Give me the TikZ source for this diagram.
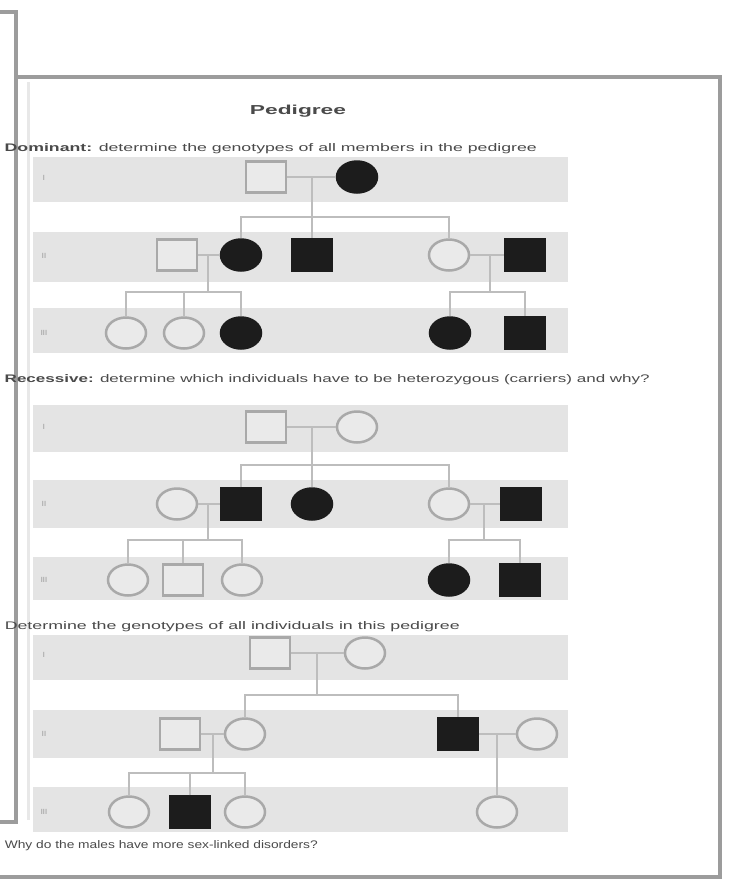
\documentclass[tikz,border=0pt]{standalone}
\usepackage{graphicx}
\usepackage{fontspec}
\setmainfont{Liberation Sans}
\usetikzlibrary{positioning,shapes.geometric}
\definecolor{bandgray}{HTML}{E4E4E4}
\definecolor{openfill}{HTML}{EAEAEA}
\definecolor{symline}{HTML}{A9A9A9}
\definecolor{linkgray}{HTML}{BDBDBD}
\definecolor{ink}{HTML}{1C1C1C}
\definecolor{framegray}{HTML}{9C9C9C}
\definecolor{txt}{HTML}{4A4A4A}
% stretch a line of text to a given width, keeping its height
\newcommand{\wide}[2]{\resizebox{#1}{\height}{#2}}

\begin{document}
\begin{tikzpicture}[x=1pt, y=-1pt,
  male/.style={draw=symline, fill=openfill, line width=2.5pt, minimum width=40pt, minimum height=31pt, inner sep=0pt},
  female/.style={male, ellipse},
  hit/.style={draw=ink, fill=ink},
  link/.style={draw=linkgray, line width=2pt},
  genlab/.style={font=\fontsize{7.5}{8}\selectfont, text=gray!85},
  task/.style={anchor=base east, inner sep=0pt, font=\fontsize{11}{13}\selectfont, text=txt},
  frame/.style={draw=framegray, line width=4pt}]
  \useasboundingbox (0,0) rectangle (732,879);
  \fill[white] (0,0) rectangle (732,879);

  % frames
  \draw[gray!18, line width=3pt] (28,82) -- (28,820);
  \draw[frame] (0,12) -- (16,12) -- (16,822) -- (0,822);
  \draw[frame] (16,77) -- (720,77) -- (720,877) -- (0,877);

  % grey bands, one per generation
  \foreach \top/\bot in {157/202, 232/282, 308/353, 405/452, 480/528, 557/600, 635/680, 710/758, 787/832}
    \fill[bandgray] (33,\top) rectangle (568,\bot);
  \foreach \y/\g in {178/I, 256/II, 333/III, 427/I, 504/II, 580/III, 655/I, 734/II, 812/III}
    \node[genlab] at (44,\y) {\g};

  \node[font=\bfseries\fontsize{13}{15}\selectfont, text=txt] (title) at (298,111) {\wide{96pt}{Pedigree}};
  \node[task] (t1) at (537,151) {\wide{532pt}{\textbf{Dominant:} determine the genotypes of all members in the pedigree}};
  \node[task] (t2) at (650,382) {\wide{645pt}{\textbf{Recessive:} determine which individuals have to be heterozygous (carriers) and why?}};
  \node[task] (t3) at (460,629) {\wide{455pt}{Determine the genotypes of all individuals in this pedigree}};
  \node[task] (t4) at (318,848) {\wide{313pt}{Why do the males have more sex-linked disorders?}};

  % dominant
  \node[male] (a11) at (266,177) {};
  \node[female, hit] (a12) at (357,177) {};
  \node[male] (a21) at (177,255) {};
  \node[female, hit] (a22) at (241,255) {};
  \node[male, hit] (a23) at (312,255) {};
  \node[female] (a24) at (449,255) {};
  \node[male, hit] (a25) at (525,255) {};
  \node[female] (a31) at (126,333) {};
  \node[female] (a32) at (184,333) {};
  \node[female, hit] (a33) at (241,333) {};
  \node[female, hit] (a34) at (450,333) {};
  \node[male, hit] (a35) at (525,333) {};
  \coordinate (a1mid) at (312,177);
  \coordinate (a1sib) at (312,217);
  \coordinate (a2lmid) at (208,255);
  \coordinate (a2lsib) at (208,292);
  \coordinate (a2rmid) at (490,255);
  \coordinate (a2rsib) at (490,292);
  \draw[link] (a11.east) -- (a12.west);
  \draw[link] (a1mid) -- (a23.north);
  \draw[link] (a22.north) |- (a1sib) -| (a24.north);
  \draw[link] (a21.east) -- (a22.west);
  \draw[link] (a2lmid) -- (a2lsib);
  \draw[link] (a31.north) |- (a2lsib) -| (a33.north);
  \draw[link] (a32.north) |- (a2lsib);
  \draw[link] (a24.east) -- (a25.west);
  \draw[link] (a2rmid) -- (a2rsib);
  \draw[link] (a34.north) |- (a2rsib) -| (a35.north);

  % recessive
  \node[male] (b11) at (266,427) {};
  \node[female] (b12) at (357,427) {};
  \node[female] (b21) at (177,504) {};
  \node[male, hit] (b22) at (241,504) {};
  \node[female, hit] (b23) at (312,504) {};
  \node[female] (b24) at (449,504) {};
  \node[male, hit] (b25) at (521,504) {};
  \node[female] (b31) at (128,580) {};
  \node[male] (b32) at (183,580) {};
  \node[female] (b33) at (242,580) {};
  \node[female, hit] (b34) at (449,580) {};
  \node[male, hit] (b35) at (520,580) {};
  \coordinate (b1mid) at (312,427);
  \coordinate (b1sib) at (312,465);
  \coordinate (b2lmid) at (208,504);
  \coordinate (b2lsib) at (208,540);
  \coordinate (b2rmid) at (484,504);
  \coordinate (b2rsib) at (484,540);
  \draw[link] (b11.east) -- (b12.west);
  \draw[link] (b1mid) -- (b23.north);
  \draw[link] (b22.north) |- (b1sib) -| (b24.north);
  \draw[link] (b21.east) -- (b22.west);
  \draw[link] (b2lmid) -- (b2lsib);
  \draw[link] (b31.north) |- (b2lsib) -| (b33.north);
  \draw[link] (b32.north) |- (b2lsib);
  \draw[link] (b24.east) -- (b25.west);
  \draw[link] (b2rmid) -- (b2rsib);
  \draw[link] (b34.north) |- (b2rsib) -| (b35.north);

  % third pedigree
  \node[male] (c11) at (270,653) {};
  \node[female] (c12) at (365,653) {};
  \node[male] (c21) at (180,734) {};
  \node[female] (c22) at (245,734) {};
  \node[male, hit] (c23) at (458,734) {};
  \node[female] (c24) at (537,734) {};
  \node[female] (c31) at (129,812) {};
  \node[male, hit] (c32) at (190,812) {};
  \node[female] (c33) at (245,812) {};
  \node[female] (c34) at (497,812) {};
  \coordinate (c1mid) at (317,653);
  \coordinate (c1sib) at (317,695);
  \coordinate (c2lmid) at (213,734);
  \coordinate (c2lsib) at (213,773);
  \coordinate (c2rmid) at (497,734);
  \draw[link] (c11.east) -- (c12.west);
  \draw[link] (c1mid) -- (c1sib);
  \draw[link] (c22.north) |- (c1sib) -| (c23.north);
  \draw[link] (c21.east) -- (c22.west);
  \draw[link] (c2lmid) -- (c2lsib);
  \draw[link] (c31.north) |- (c2lsib) -| (c33.north);
  \draw[link] (c32.north) |- (c2lsib);
  \draw[link] (c23.east) -- (c24.west);
  \draw[link] (c2rmid) -- (c34.north);
\end{tikzpicture}
\end{document}
